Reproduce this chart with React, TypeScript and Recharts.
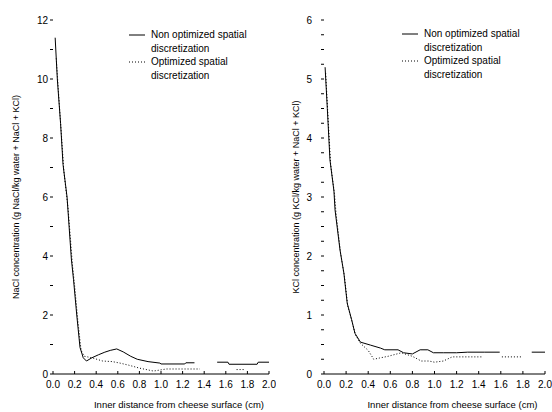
import React from 'react';
import { LineChart, Line, XAxis, YAxis, Legend } from 'recharts';

const FONT = '"Liberation Sans", Arial, sans-serif';

const xTicks = [0, 0.2, 0.4, 0.6, 0.8, 1.0, 1.2, 1.4, 1.6, 1.8, 2.0];
const naclYTicks = [0, 1, 2, 3, 4, 5, 6, 7, 8, 9, 10, 11, 12];
const kclYTicks = [0, 0.25, 0.5, 0.75, 1, 1.25, 1.5, 1.75, 2, 2.25, 2.5, 2.75, 3, 3.25, 3.5, 3.75, 4, 4.25, 4.5, 4.75, 5, 5.25, 5.5, 5.75, 6];

const seriesNames = ['Non optimized spatial\ndiscretization', 'Optimized spatial\ndiscretization'];

// NaCl – non optimized spatial discretization
const naclNonOptX = [0.02, 0.04, 0.07, 0.093, 0.13, 0.17, 0.19, 0.22, 0.25, 0.28, 0.31, 0.36, 0.42, 0.48, 0.53, 0.59, 0.65, 0.72, 0.78, 0.88, 0.99, 1.0, 1.22, 1.23, 1.31, 1.32, 1.51, 1.52, 1.62, 1.63, 1.89, 1.9, 2.0];
const naclNonOptY = [11.4, 10.0, 8.5, 7.1, 6.0, 3.9, 3.2, 2.0, 0.9, 0.55, 0.44, 0.55, 0.65, 0.74, 0.8, 0.85, 0.75, 0.6, 0.5, 0.42, 0.37, 0.34, 0.34, 0.38, 0.38, null, null, 0.4, 0.4, 0.33, 0.33, 0.4, 0.4];
// NaCl – optimized spatial discretization
const naclOptX = [0.03, 0.05, 0.08, 0.1, 0.14, 0.18, 0.2, 0.23, 0.26, 0.29, 0.32, 0.36, 0.46, 0.55, 0.62, 0.7, 0.8, 0.93, 1.05, 1.15, 1.25, 1.36, 1.37, 1.69, 1.7, 1.77];
const naclOptY = [10.7, 9.6, 8.0, 6.9, 5.6, 3.7, 3.0, 1.8, 0.8, 0.6, 0.58, 0.55, 0.44, 0.42, 0.37, 0.3, 0.2, 0.1, 0.17, 0.17, 0.17, 0.17, null, null, 0.15, 0.15];

// KCl – non optimized spatial discretization
const kclNonOptX = [0.01, 0.03, 0.054, 0.09, 0.1, 0.145, 0.18, 0.21, 0.25, 0.28, 0.33, 0.42, 0.51, 0.55, 0.67, 0.72, 0.8, 0.87, 0.94, 0.99, 1.08, 1.2, 1.3, 1.45, 1.59, 1.6, 1.87, 1.88, 2.0];
const kclNonOptY = [5.2, 4.5, 3.63, 3.1, 2.78, 2.1, 1.71, 1.2, 0.92, 0.69, 0.54, 0.49, 0.44, 0.41, 0.41, 0.36, 0.34, 0.41, 0.41, 0.36, 0.36, 0.36, 0.37, 0.37, 0.37, null, null, 0.37, 0.37];
// KCl – optimized spatial discretization
const kclOptX = [0.015, 0.035, 0.06, 0.095, 0.11, 0.15, 0.185, 0.215, 0.255, 0.285, 0.33, 0.4, 0.45, 0.5, 0.58, 0.7, 0.8, 0.88, 0.95, 1.0, 1.08, 1.16, 1.43, 1.44, 1.6, 1.61, 1.8];
const kclOptY = [5.1, 4.4, 3.55, 3.05, 2.7, 2.05, 1.65, 1.15, 0.88, 0.66, 0.52, 0.4, 0.25, 0.27, 0.3, 0.36, 0.3, 0.22, 0.22, 0.2, 0.22, 0.29, 0.29, null, null, 0.29, 0.29];

const toPoints = (xs: number[], ys: (number | null)[]) => xs.map((x, i) => ({ x, y: ys[i] }));

const fmtX = (v: number) => v.toFixed(1);

const renderLegend = (props: any) => {
  const payload = props.payload || [];
  return (
    <div style={{ fontFamily: FONT, fontSize: 10, lineHeight: '13.5px', color: '#000' }}>
      {payload.map((p: any, i: number) => (
        <div key={i} style={{ display: 'flex', alignItems: 'flex-start' }}>
          <svg width={16} height={13} style={{ flex: 'none' }}>
            <line x1={0} x2={16} y1={7} y2={7} stroke="#000" strokeWidth={1} strokeDasharray={i === 1 ? '1 2' : undefined} />
          </svg>
          <div style={{ marginLeft: 6, whiteSpace: 'pre-line' }}>{seriesNames[i]}</div>
        </div>
      ))}
    </div>
  );
};

type PanelProps = {
  nonOpt: { x: number; y: number | null }[];
  opt: { x: number; y: number | null }[];
  yMax: number;
  yTicks: number[];
  yLabelEvery: number;
  yLabel: string;
  yAxisWidth: number;
  yLabelOffset: number;
  yTickMargin: number;
  legendLeft: number;
  legendTop: number;
  width: number;
};

const Panel = (p: PanelProps) => (
  <LineChart width={p.width} height={412} margin={{ top: 20, right: 7, bottom: 0, left: 0 }}>
    <XAxis
      xAxisId="b"
      dataKey="x"
      type="number"
      domain={[0, 2]}
      ticks={xTicks}
      tickFormatter={fmtX}
      allowDuplicatedCategory={false}
      height={38}
      tickSize={-3}
      tickMargin={10}
      stroke="#000"
      tick={{ fill: '#000', fontSize: 10, fontFamily: FONT }}
      label={{ value: 'Inner distance from cheese surface (cm)', position: 'insideBottom', offset: 4, dx: 18, fill: '#000', fontSize: 9.5, fontFamily: FONT }}
    />
    <XAxis
      xAxisId="t"
      dataKey="x"
      type="number"
      orientation="top"
      domain={[0, 2]}
      ticks={xTicks}
      height={0}
      tick={false}
      tickSize={-3}
      stroke="#000"
    />
    <YAxis
      yAxisId="l"
      type="number"
      domain={[0, p.yMax]}
      ticks={p.yTicks}
      interval={0}
      width={p.yAxisWidth}
      axisLine={false}
      tickSize={3}
      tickMargin={p.yTickMargin}
      tickFormatter={(v: number) => (Math.abs(v / p.yLabelEvery - Math.round(v / p.yLabelEvery)) < 1e-9 ? String(v) : '')}
      stroke="#000"
      tick={{ fill: '#000', fontSize: 10, fontFamily: FONT }}
      label={{ value: p.yLabel, angle: -90, position: 'insideLeft', offset: p.yLabelOffset, fill: '#000', fontSize: 9, fontFamily: FONT, style: { textAnchor: 'middle' } }}
    />
    <YAxis
      yAxisId="r"
      type="number"
      orientation="right"
      domain={[0, p.yMax]}
      ticks={p.yTicks}
      interval={0}
      width={0}
      tick={false}
      tickSize={3}
      stroke="#000"
    />
    <Legend
      verticalAlign="middle"
      align="center"
      layout="vertical"
      content={renderLegend}
      wrapperStyle={{ position: 'absolute', left: p.legendLeft, top: p.legendTop, width: 140, height: 56, margin: 0 }}
    />
    <Line
      xAxisId="b"
      yAxisId="l"
      data={p.nonOpt}
      dataKey="y"
      name={seriesNames[0]}
      type="linear"
      stroke="#000"
      strokeWidth={1}
      dot={false}
      connectNulls={false}
      isAnimationActive={false}
    />
    <Line
      xAxisId="b"
      yAxisId="l"
      data={p.opt}
      dataKey="y"
      name={seriesNames[1]}
      type="linear"
      stroke="#000"
      strokeWidth={1}
      strokeDasharray="1 2"
      dot={false}
      connectNulls={false}
      isAnimationActive={false}
    />
  </LineChart>
);

export default function App() {
  return (
    <div style={{ position: 'absolute', left: 0, top: 0, width: 552, height: 412, background: '#fff', fontFamily: FONT }}>
      <div style={{ position: 'absolute', left: 0, top: 0 }}>
        <Panel
          width={276}
          nonOpt={toPoints(naclNonOptX, naclNonOptY)}
          opt={toPoints(naclOptX, naclOptY)}
          yMax={12}
          yTicks={naclYTicks}
          yLabelEvery={2}
          yLabel="NaCl concentration (g NaCl/kg water + NaCl + KCl)"
          yAxisWidth={53}
          yLabelOffset={16}
          yTickMargin={2}
          legendLeft={129}
          legendTop={28}
        />
      </div>
      <div style={{ position: 'absolute', left: 272, top: 0 }}>
        <Panel
          width={280}
          nonOpt={toPoints(kclNonOptX, kclNonOptY)}
          opt={toPoints(kclOptX, kclOptY)}
          yMax={6}
          yTicks={kclYTicks}
          yLabelEvery={1}
          yLabel="KCl concentration (g KCl/kg water + NaCl + KCl)"
          yAxisWidth={52}
          yLabelOffset={24}
          yTickMargin={9}
          legendLeft={130}
          legendTop={27}
        />
      </div>
    </div>
  );
}
